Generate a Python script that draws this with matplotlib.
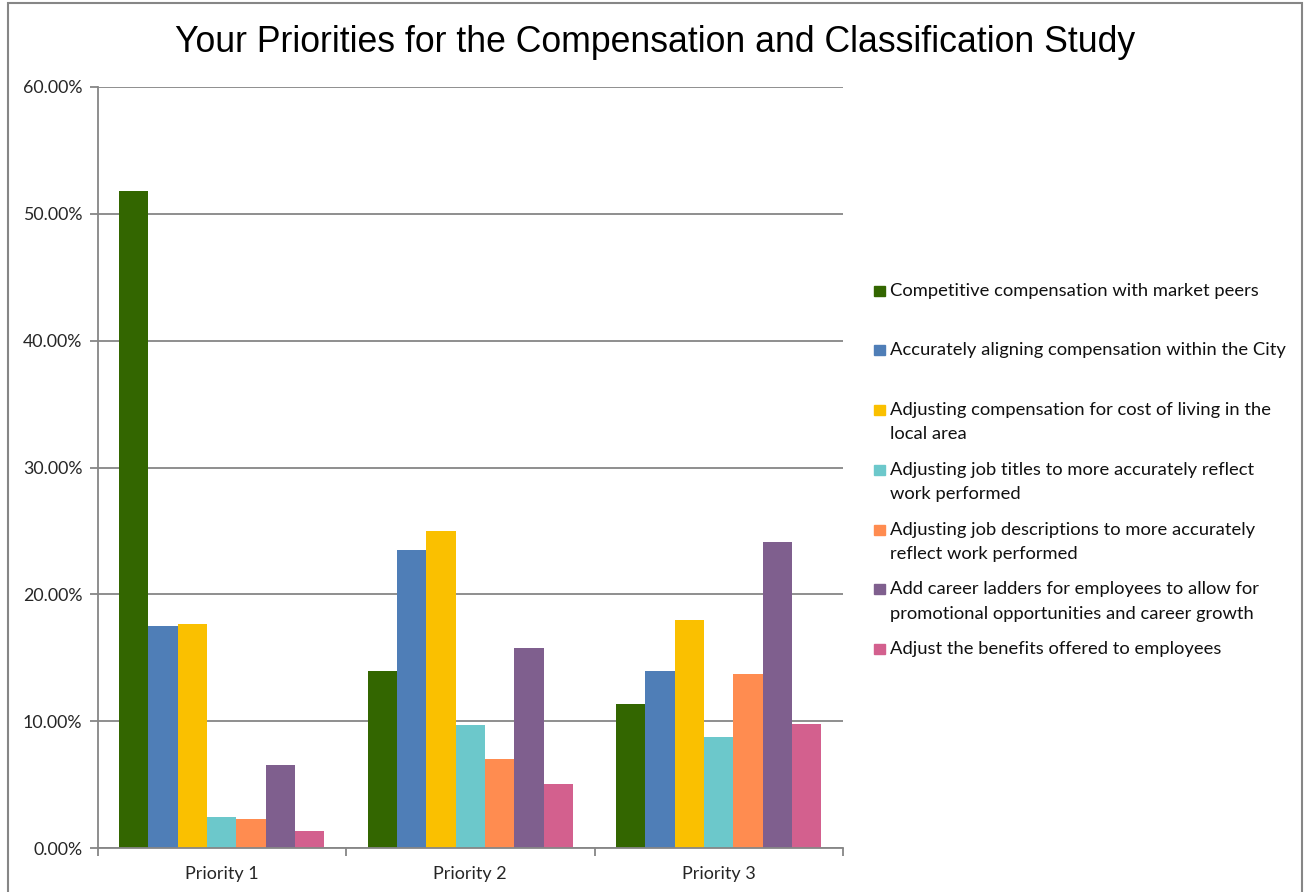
import numpy as np
import matplotlib
matplotlib.use("Agg")
import matplotlib.pyplot as plt
from matplotlib.patches import Rectangle
from matplotlib.ticker import FixedLocator, NullFormatter

# survey results, percent of respondents per priority rank
priorities = ["Priority 1", "Priority 2", "Priority 3"]
options = [
    "Competitive compensation with market peers",
    "Accurately aligning compensation within the City",
    "Adjusting compensation for cost of living in the\nlocal area",
    "Adjusting job titles to more accurately reflect\nwork performed",
    "Adjusting job descriptions to more accurately\nreflect work performed",
    "Add career ladders for employees to allow for\npromotional opportunities and career growth",
    "Adjust the benefits offered to employees",
]
competitive = [51.8, 14.0, 11.4]
aligning = [17.5, 23.5, 14.0]
cost_of_living = [17.7, 25.0, 18.0]
job_titles = [2.5, 9.7, 8.8]
job_descriptions = [2.3, 7.0, 13.7]
career_ladders = [6.6, 15.8, 24.1]
benefits = [1.4, 5.1, 9.8]
series = [competitive, aligning, cost_of_living, job_titles,
          job_descriptions, career_ladders, benefits]
colors = ["#336600", "#4F7EB7", "#FAC000", "#6CC8CB", "#FF8C50", "#7F5F8E", "#D3608E"]

W, H = 1304, 892
fig = plt.figure(figsize=(W / 100, H / 100), dpi=100)
ax = fig.add_axes([97.5 / W, 1 - 848.3 / H, (843 - 97.5) / W, (848.3 - 86.7) / H])

grey = "#868686"
label_font = ["Lato", "DejaVu Sans"]

x = np.arange(len(priorities))
width = 0.118
for i, (vals, col) in enumerate(zip(series, colors)):
    ax.bar(x + (i - 3) * width, vals, width, color=col, zorder=2)

ax.set_xlim(-0.5, len(priorities) - 0.5)
ax.set_ylim(0, 60)
ticks = np.arange(0, 61, 10)
ax.set_yticks(ticks)
ax.set_yticklabels([f"{t:.2f}%" for t in ticks], family=label_font,
                   fontsize=12.8, color="#262626")
ax.yaxis.grid(True, color=grey, lw=1.3, zorder=0)
ax.set_axisbelow(True)

# category boundaries carry the tick marks, labels sit at the centres
ax.xaxis.set_major_locator(FixedLocator(np.arange(-0.5, len(priorities), 1.0)))
ax.xaxis.set_major_formatter(NullFormatter())
ax.xaxis.set_minor_locator(FixedLocator(x))
ax.set_xticklabels(priorities, minor=True, family=label_font,
                   fontsize=13, color="#262626")
ax.tick_params(axis="x", which="major", length=6, width=1.3, color=grey)
ax.tick_params(axis="x", which="minor", length=0, pad=12.5)
ax.tick_params(axis="y", length=6, width=1.3, color=grey, pad=5)

for side in ["top", "right"]:
    ax.spines[side].set_visible(False)
for side in ["left", "bottom"]:
    ax.spines[side].set_color(grey)
    ax.spines[side].set_linewidth(1.3)

fig.text(655 / W, 1 - 43 / H, "Your Priorities for the Compensation and Classification Study",
         ha="center", va="center", fontsize=25.7, family="Liberation Sans", color="black")

# legend drawn by hand so the swatch lines up with the first text line
y_first, slot, line_gap = 290.7, 59.7, 24.3
for i, (name, col) in enumerate(zip(options, colors)):
    y0 = y_first + i * slot
    fig.add_artist(Rectangle((874 / W, 1 - (y0 + 5) / H), 11 / W, 10 / H,
                             transform=fig.transFigure, color=col))
    for j, line in enumerate(name.split("\n")):
        fig.text(890 / W, 1 - (y0 + j * line_gap) / H, line, ha="left", va="center",
                 fontsize=13.2, family=label_font, color="#111111")

# chart frame
fig.add_artist(Rectangle((8 / W, -0.1), (1302 - 8) / W, 1.1 - 3 / H, fill=False,
                         edgecolor=grey, lw=1.5, transform=fig.transFigure))

fig.savefig("out.png", dpi=100)
